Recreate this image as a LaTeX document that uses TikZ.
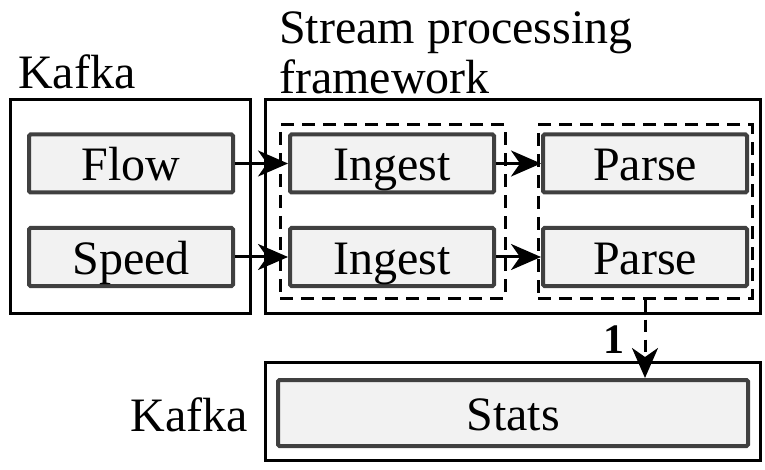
\documentclass[tikz,border=0pt]{standalone}
\usepackage{fontspec}
\setmainfont{Liberation Serif}
\usepackage{tikz}
\usetikzlibrary{arrows.meta,positioning,calc}
\definecolor{boxFill}{RGB}{242,242,242}
\definecolor{boxLine}{RGB}{64,64,64}

\begin{document}
\begin{tikzpicture}[x=1pt,y=-1pt,
          opbox/.style={draw=boxLine,fill=boxFill,line width=4pt,rounded corners=1.5pt,
                        minimum width=204pt,minimum height=58pt,inner sep=0pt,
                        text height=38pt,text depth=4pt,
                        font=\fontsize{48}{52}\selectfont},
          outerbox/.style={draw=black,line width=3pt,inner sep=0pt},
          groupbox/.style={draw=black,line width=3pt,dash pattern=on 13pt off 8pt,inner sep=0pt},
          lbl/.style={font=\fontsize{48}{50}\selectfont,inner sep=0pt,align=left},
          flowarrow/.style={-{Stealth[length=30pt,width=26pt,inset=9pt]},line width=3pt},
        ]
        \useasboundingbox (0,0) rectangle (765,470);
        % kafka source
        \node[outerbox,minimum width=240pt,minimum height=213pt](kafkaIn) at (130,206.5){};
        \node[lbl,anchor=west](kafkaInLbl) at (18,72){Kafka};
        \node[opbox](flow)  at (131,163.5){Flow};
        \node[opbox](speed) at (131,257){Speed};

        % stream processing
        \node[outerbox,minimum width=495pt,minimum height=213pt](spf) at (512.5,206.5){};
        \node[lbl,anchor=north west](spfLbl) at (279,12){Stream processing\\framework};
        \node[groupbox,minimum width=225pt,minimum height=173pt](ingestG) at (392.5,211.5){};
        \node[groupbox,minimum width=214pt,minimum height=173pt](parseG)  at (645,211.5){};
        \node[opbox](ingest1) at (392,163.5){Ingest};
        \node[opbox](ingest2) at (392,257){Ingest};
        \node[opbox](parse1)  at (645,163.5){Parse};
        \node[opbox](parse2)  at (645,257){Parse};
        \draw[flowarrow](flow)--(ingest1);
        \draw[flowarrow](speed)--(ingest2);
        \draw[flowarrow](ingest1)--(parse1);
        \draw[flowarrow](ingest2)--(parse2);

        % kafka sink
        \node[outerbox,minimum width=495pt,minimum height=98pt](kafkaOut) at (512.5,411){};
        \node[opbox,minimum width=470pt,minimum height=66pt](stats) at (513,413){Stats};
        \node[lbl,anchor=east](kafkaOutLbl) at (248,415){Kafka};
        \draw[flowarrow,dash pattern=on 12pt off 8pt](parseG.south)--(parseG.south|-stats.north);
        \node[lbl,font=\fontsize{42}{44}\selectfont\bfseries](one) at (614,340){1};
      \end{tikzpicture}
\end{document}
